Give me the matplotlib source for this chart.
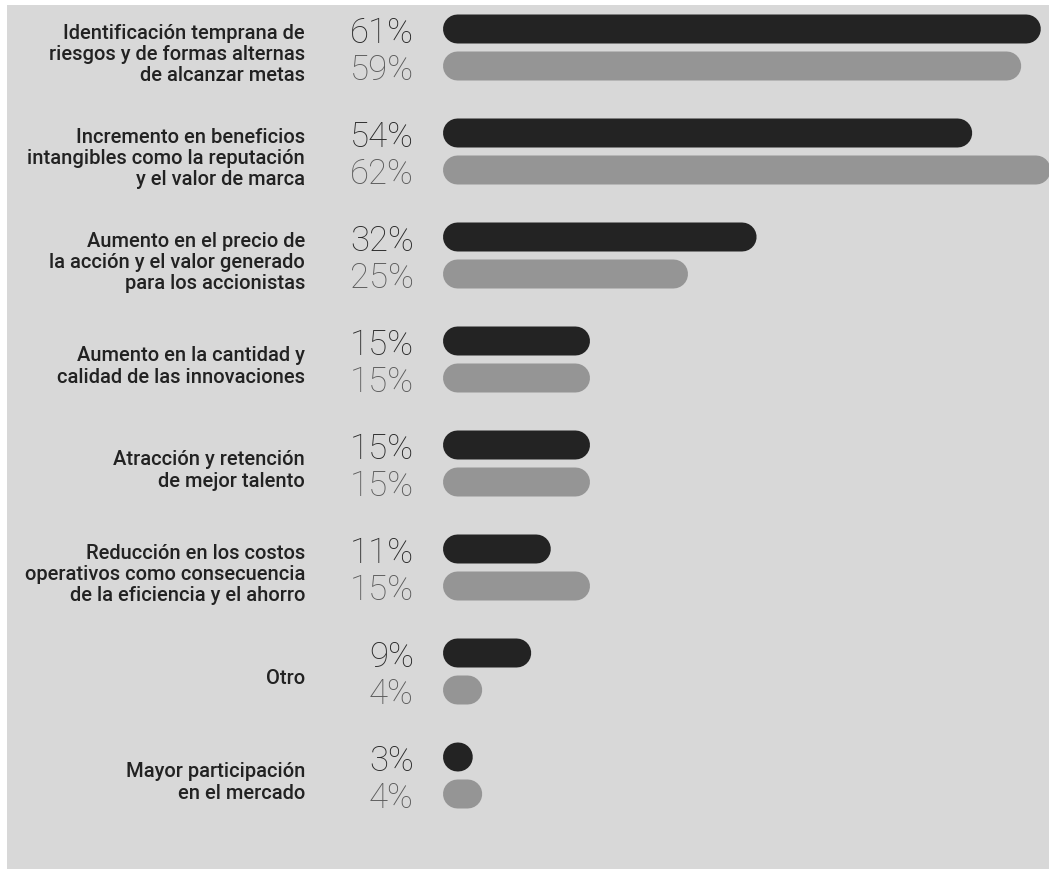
import numpy as np
import matplotlib
matplotlib.use('Agg')
import matplotlib.pyplot as plt
from matplotlib.patches import Rectangle

# data
categories = [
    'Identificación temprana de\nriesgos y de formas alternas\nde alcanzar metas',
    'Incremento en beneficios\nintangibles como la reputación\ny el valor de marca',
    'Aumento en el precio de\nla acción y el valor generado\npara los accionistas',
    'Aumento en la cantidad y\ncalidad de las innovaciones',
    'Atracción y retención\nde mejor talento',
    'Reducción en los costos\noperativos como consecuencia\nde la eficiencia y el ahorro',
    'Otro',
    'Mayor participación\nen el mercado',
]
dark_vals = [61, 54, 32, 15, 15, 11, 9, 3]
gray_vals = [59, 62, 25, 15, 15, 15, 4, 4]

W, H = 1049, 869
DPI = 100
x0_px = 443          # start of bars
px_per_pct = 9.8
row0_px = 29         # centre of first dark bar
row_step = 104       # px between groups
pair_gap = 37 / row_step
bar_h_px = 29

fig = plt.figure(figsize=(W / DPI, H / DPI), dpi=DPI, facecolor='white')
# grey panel behind everything
panel = Rectangle((7 / W, 0), 1 - 7 / W, (H - 5) / H, transform=fig.transFigure,
                  facecolor='#d8d8d8', edgecolor='none', zorder=-10)
fig.add_artist(panel)

ax = fig.add_axes([x0_px / W, 0, 1 - x0_px / W, 1])
ax.set_zorder(5)
ax.set_xlim(0, (W - x0_px) / px_per_pct)
ax.set_ylim((H - row0_px) / row_step, -row0_px / row_step)
ax.axis('off')

lw = bar_h_px * 72 / DPI
r = bar_h_px / 2 / px_per_pct  # cap radius in pct units

def draw_bar(y, v, color):
    a = r
    b = max(v - r, r + 0.08)
    ax.plot([a, b], [y, y], color=color, lw=lw, solid_capstyle='round', snap=False, zorder=3)

num_font = dict(family=['Roboto', 'DejaVu Sans'], weight='light', fontsize=25)
lab_font = dict(family=['Roboto', 'DejaVu Sans'], weight='medium', fontsize=14.5)
num_dy = 4 / row_step

for i, (cat, d, g) in enumerate(zip(categories, dark_vals, gray_vals)):
    yd = i
    yg = i + pair_gap
    draw_bar(yd, d, '#232323')
    draw_bar(yg, g, '#959595')
    ax.text(-29 / px_per_pct, yd + num_dy, '%d%%' % d, ha='right', va='center', color='#2a2a2a',
            clip_on=False, **num_font)
    ax.text(-29 / px_per_pct, yg + num_dy, '%d%%' % g, ha='right', va='center', color='#5c5c5c',
            clip_on=False, **num_font)
    ax.text(-138 / px_per_pct, (yd + yg) / 2 + 7 / row_step, cat, ha='right', va='center',
            color='#222222', linespacing=1.15, clip_on=False, **lab_font)

fig.savefig('out.png', dpi=DPI, facecolor=fig.get_facecolor())
